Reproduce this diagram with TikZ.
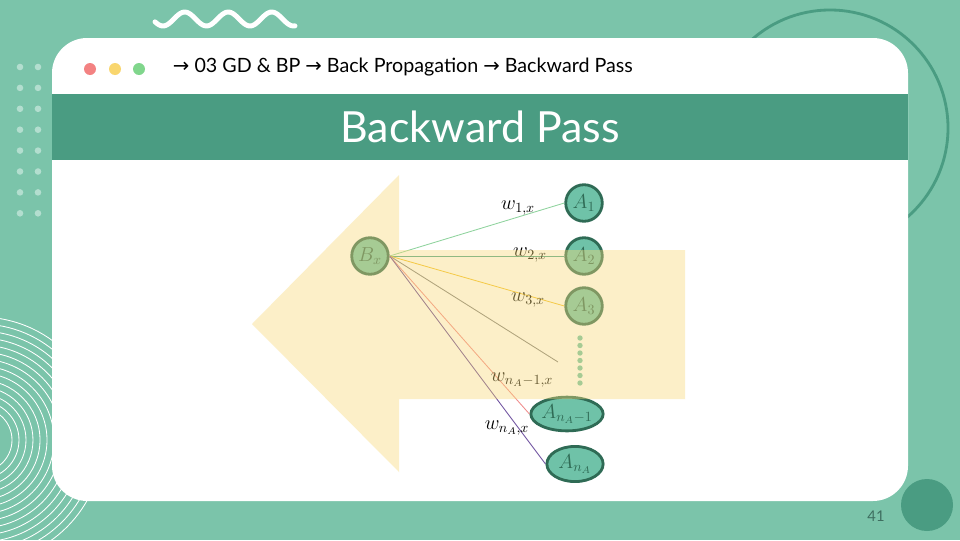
\documentclass[tikz,border=0pt]{standalone}
\usepackage{fontspec}
\setmainfont{Lato}
\newfontfamily\arrowfont{DejaVu Sans}
\usetikzlibrary{shapes.geometric, positioning}
\definecolor{bgteal}{HTML}{7BC4AA}
\definecolor{darkteal}{HTML}{4A9C82}
\definecolor{nodeteal}{HTML}{6FC2A8}
\definecolor{nodeedge}{HTML}{2F6B55}
\definecolor{gridlight}{HTML}{B3DECF}
\definecolor{dotred}{HTML}{F38282}
\definecolor{dotyellow}{HTML}{F9D66E}
\definecolor{dotgreen}{HTML}{80D68C}
\definecolor{arrowyellow}{HTML}{F9D977}
\definecolor{wone}{HTML}{8ED39D}
\definecolor{wtwo}{HTML}{4AA58A}
\definecolor{wthree}{HTML}{F2C12E}
\definecolor{wfour}{HTML}{7F7F7F}
\definecolor{wfive}{HTML}{F08C8C}
\definecolor{wsix}{HTML}{6A4C9C}
\definecolor{pagegray}{HTML}{3E6E60}

\begin{document}
\begin{tikzpicture}[x = 0.025cm, y = -0.025cm]
	\tikzstyle {neuron} = [circle, draw = nodeedge, fill = nodeteal, line width = 2pt, minimum size = 26pt, inner sep = 0pt, text = nodeedge, font = \Large];
	\tikzstyle {wideneuron} = [ellipse, draw = nodeedge, fill = nodeteal, line width = 2pt, inner sep = 0pt, text = nodeedge, font = \Large];
	\tikzstyle {weight} = [inner sep = 0pt, font = \Large];
	\fill[bgteal] (0, 0) rectangle (960, 540);
	\useasboundingbox (0, 0) rectangle (960, 540);
	\draw[darkteal, line width = 2pt] (830, 128) circle [radius = 118];
	\foreach \r in {32, 39, ..., 123} {
			\draw[white, line width = 0.6pt] (-20, 440) circle [radius = \r];
		}
	\foreach \row in {0, 1, ..., 7} {
			\foreach \col in {20, 38} {
					\fill[gridlight] (\col, 67 + 20.9 * \row) circle [radius = 3.3];
				}
		}
	\draw[white, line width = 3.5pt, line cap = round, domain = 155:295, samples = 80, smooth] plot (\x, {19 + 7 * cos((\x - 163) * 8.2759)});
	\fill[white, rounded corners = 25pt] (52, 38) rectangle (908, 501);
	\fill[darkteal] (52, 94) rectangle (908, 160);
	\fill[darkteal] (927, 505) circle [radius = 26];
	\foreach \dotcolor/\xpos in {dotred/90, dotyellow/115, dotgreen/139} {
			\fill[\dotcolor] (\xpos, 69) circle [radius = 6];
		}
	\node[anchor = west, font = \fontsize{14}{17}\selectfont] (crumb) at (168, 67) {{\arrowfont →} 03 GD \& BP {\arrowfont →} Back Propagation {\arrowfont →} Backward Pass};
	\node[text = white, font = \fontsize{30.5}{36}\selectfont] (title) at (480, 127) {Backward Pass};
	\node[text = pagegray, font = \fontsize{10.5}{12}\selectfont] (page) at (876, 516) {41};
	\node[neuron] (Bx) at (370, 256) {$B_x$};
	\node[neuron] (A1) at (584, 203) {$A_1$};
	\node[neuron] (A2) at (584, 256) {$A_2$};
	\node[neuron] (A3) at (584, 306) {$A_3$};
	\node[wideneuron, minimum width = 50pt, minimum height = 24pt] (An1) at (567, 414) {$A_{n_A-1}$};
	\node[wideneuron, minimum width = 40pt, minimum height = 25pt] (An) at (575, 464) {$A_{n_A}$};
	\coordinate (mid) at (558, 362);
	\foreach \i in {0, 1, ..., 6} {
			\fill[nodeteal] (580, 338 + 7.5 * \i) circle [radius = 2.7];
		}
	\foreach \target/\wcolor in {A1.west/wone, A2.west/wtwo, A3.west/wthree, mid/wfour, An1.west/wfive, An.west/wsix} {
			\draw[\wcolor, line width = 0.6pt] (Bx.east) -- (\target);
		}
	\node[weight] (w1) at (518, 208) {$w_{1,x}$};
	\node[weight] (w2) at (530, 255) {$w_{2,x}$};
	\node[weight] (w3) at (528, 300) {$w_{3,x}$};
	\node[weight] (w4) at (522, 380) {$w_{n_A-1,x}$};
	\node[weight] (w5) at (507, 428) {$w_{n_A,x}$};
	\fill[arrowyellow, opacity = 0.4] (252, 324) -- (399, 175) -- (399, 250) -- (685, 250) -- (685, 399) -- (399, 399) -- (399, 472) -- cycle;
\end{tikzpicture}
\end{document}
